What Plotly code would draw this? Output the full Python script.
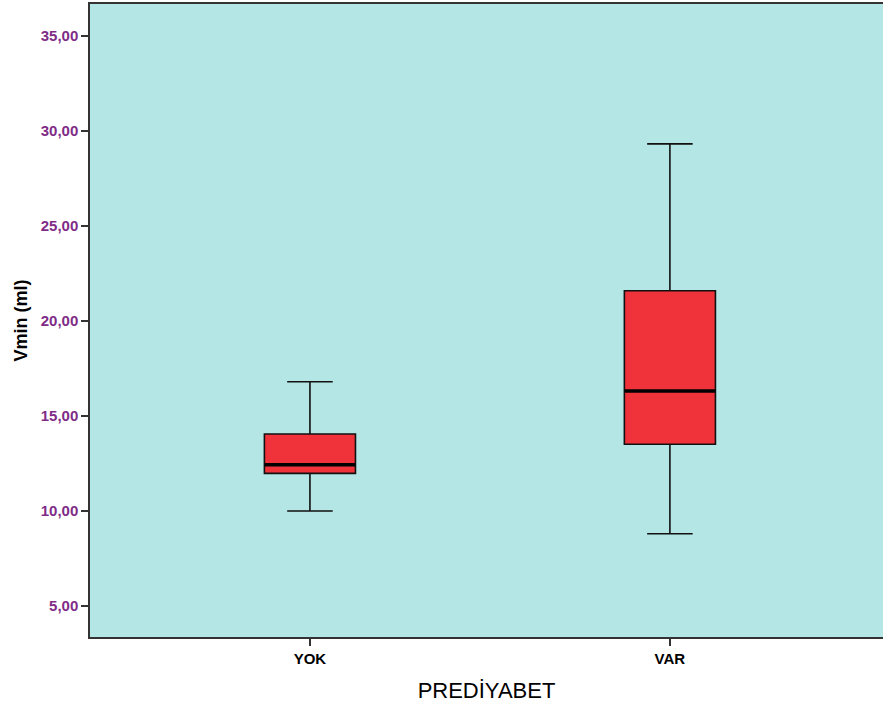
import plotly.graph_objects as go

categories = ["YOK", "VAR"]
lower_whisker = [10.0, 8.8]
q1 = [11.98, 13.51]
median = [12.44, 16.32]
q3 = [14.05, 21.59]
upper_whisker = [16.8, 29.32]
y_ticks = [5, 10, 15, 20, 25, 30, 35]
y_tick_labels = ["5,00", "10,00", "15,00", "20,00", "25,00", "30,00", "35,00"]

positions = list(range(len(categories)))
box_width = 0.253

fig = go.Figure()
fig.add_trace(go.Box(
    x=positions,
    lowerfence=lower_whisker,
    q1=q1,
    median=median,
    q3=q3,
    upperfence=upper_whisker,
    width=box_width,
    whiskerwidth=0.5,
    fillcolor="#F0323A",
    line=dict(color="#111111", width=1.6),
    boxpoints=False,
    showlegend=False,
    hoverinfo="skip",
))

# thick median lines
mx, my = [], []
for p, m in zip(positions, median):
    mx += [p - box_width / 2, p + box_width / 2, None]
    my += [m, m, None]
fig.add_trace(go.Scatter(x=mx, y=my, mode="lines",
                         line=dict(color="black", width=3.5),
                         showlegend=False, hoverinfo="skip"))

axis_font = dict(family="Arial, Liberation Sans, sans-serif")
fig.update_layout(
    width=883, height=709,
    margin=dict(l=90, r=0, t=4, b=72),
    paper_bgcolor="white",
    plot_bgcolor="#B4E6E6",
    separators=",.",
    xaxis=dict(
        range=[-0.611, 1.592],
        tickvals=positions,
        ticktext=categories,
        ticks="outside", ticklen=7, tickwidth=1.5, tickcolor="#333",
        showline=True, linecolor="#333", linewidth=1.5, mirror=True,
        showgrid=False, zeroline=False,
        tickfont=dict(size=15, color="black", weight="bold", **axis_font),
        title=dict(text="PREDİYABET", standoff=17,
                   font=dict(size=22, color="black", **axis_font)),
    ),
    yaxis=dict(
        range=[3.37, 36.68],
        tickvals=y_ticks,
        ticktext=y_tick_labels,
        ticks="outside", ticklen=7, tickwidth=2, tickcolor="#333",
        showline=True, linecolor="#333", linewidth=1.5,
        showgrid=False, zeroline=False,
        tickfont=dict(size=15, color="#7F2C87", weight="bold", **axis_font),
        title=dict(text="Vmin (ml)", standoff=8,
                   font=dict(size=18, color="black", weight="bold", **axis_font)),
    ),
)

fig.write_html(
    "out.html",
    config={"displayModeBar": False},
    post_script="document.body.style.margin='0';document.body.style.overflow='hidden';",
)
